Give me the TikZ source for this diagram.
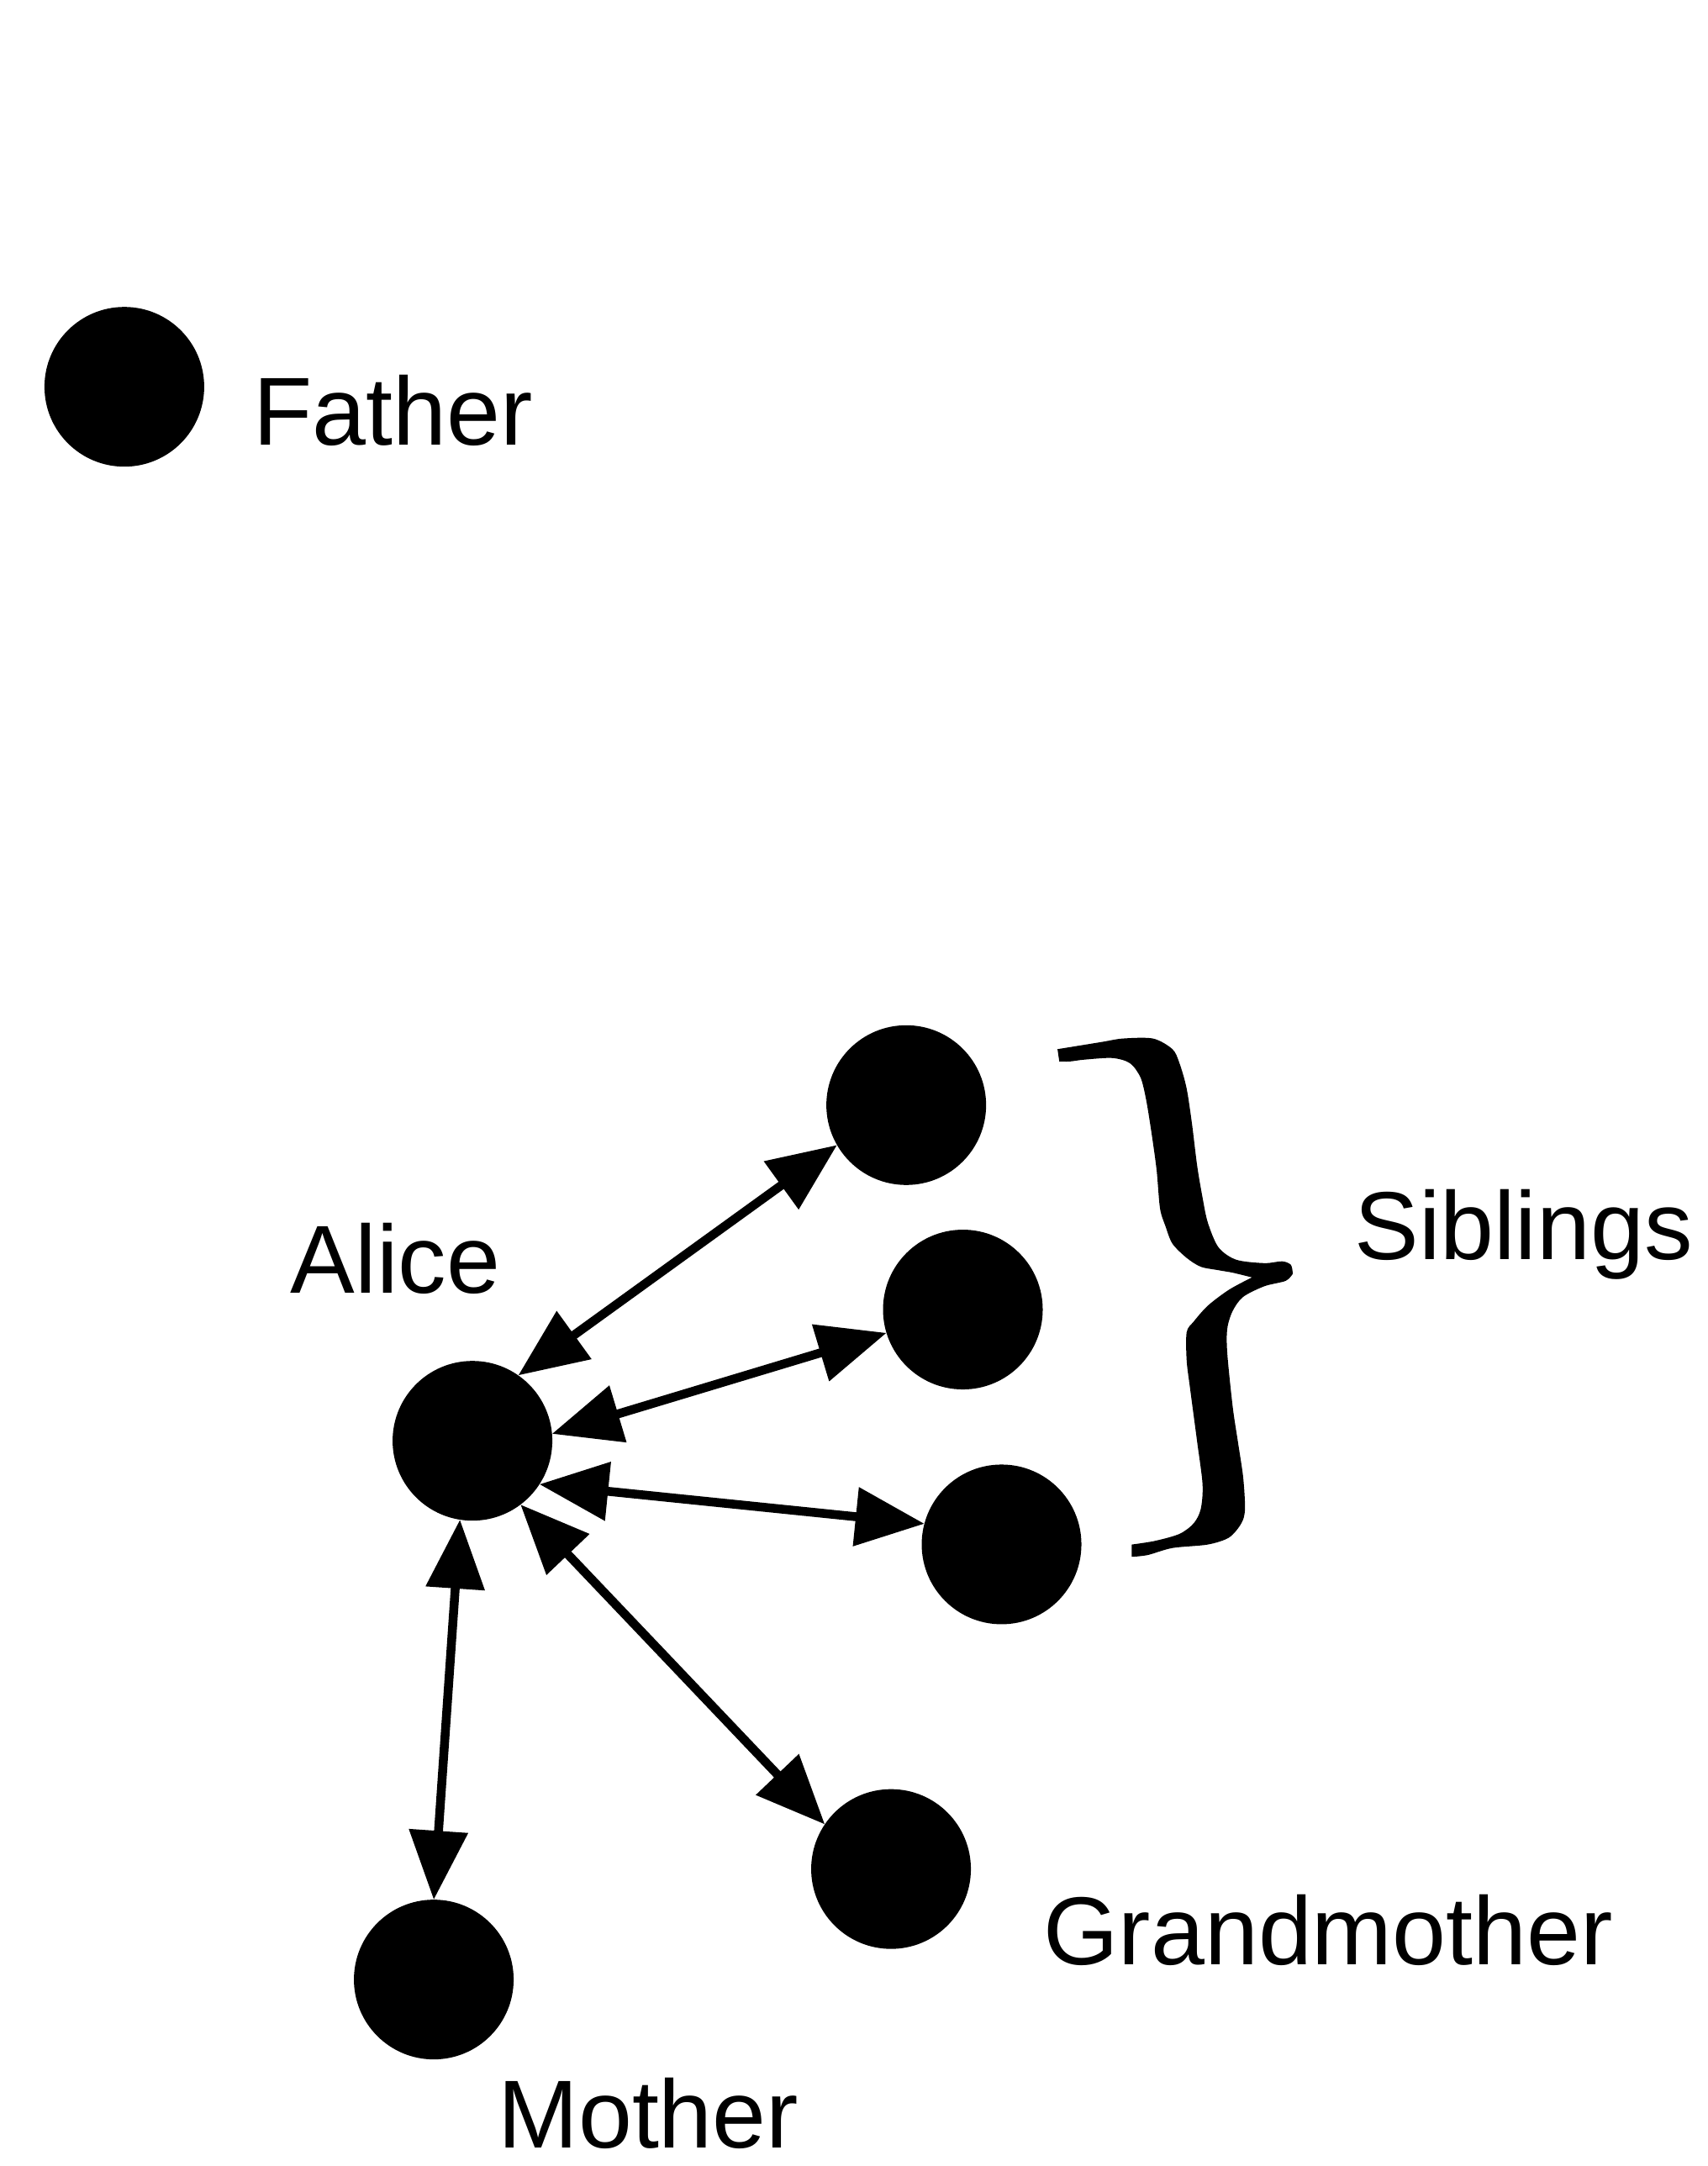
\documentclass[tikz,border=0pt]{standalone}
\usepackage{fontspec}
\setmainfont{Liberation Sans}
\usetikzlibrary{arrows.meta}

\begin{document}
\begin{tikzpicture}
      [x=0.016432cm,y=-0.016432cm,
       person/.style={circle,fill=black,minimum size=1.9cm,inner sep=0pt,outer sep=0pt},
       tag/.style={anchor=base west,inner sep=0pt,font=\fontsize{32.7}{39}\selectfont},
       tie/.style={<->,line width=3pt},
       >={Triangle[length=0.82cm,width=0.68cm]}]
      \useasboundingbox (0,0) rectangle (1236,1568) ;
      \node[person] (father) at (90,280) {} ;
      \node[person] (alice) at (342,1043) {} ;
      \node[person] (sib1) at (656,800) {} ;
      \node[person] (sib2) at (697,948) {} ;
      \node[person] (sib3) at (725,1118) {} ;
      \node[person] (grandma) at (645,1353) {} ;
      \node[person] (mother) at (314,1433) {} ;
      \node[tag] (fathertag) at (183,322) {Father} ;
      \node[tag] (alicetag) at (210,936) {Alice} ;
      \node[tag] (sibtag) at (980,912) {Siblings} ;
      \node[tag] (grandmatag) at (755,1422) {Grandmother} ;
      \node[tag] (mothertag) at (360,1555) {Mother} ;
      \draw[tie] (alice.55) to (sib1.210) ;
      \draw[tie] (alice.5) to (sib2.197) ;
      \draw[tie] (alice.-33) to (sib3.165) ;
      \draw[tie] (alice.-53) to (grandma.146) ;
      \draw[tie] (alice.-99) to (mother.90) ;
      % the brace round the siblings
      \fill plot[smooth,tension=.5] coordinates {(765.5,759.5) (797.5,754.3) (812.8,751.8) (834.6,751.8)
            (848.7,759.5) (853.8,769.7) (858.9,787.6) (862.8,813.2) (866.6,844) (870.5,867)
            (874.3,885) (882,902.9) (894.8,911.9) (915.3,914.4) (928.1,913.1) (934.5,915.7) (935.8,922.1)}
        -- plot[smooth,tension=.5] coordinates {(935.8,922.1) (930.7,927.2) (915.3,931.1) (899.9,938.8)
            (892.3,949) (888.4,961.8) (888.4,979.7) (892.3,1018.2) (896.1,1043.8) (899.9,1069.4)
            (901.2,1092.4) (898.6,1102.7) (889.7,1113) (874.3,1118.1) (848.7,1120.6) (830.8,1125.7) (819.2,1127)}
        -- plot[smooth,tension=.5] coordinates {(819.2,1118.1) (835.9,1115.5) (853.8,1110.4) (864.1,1102.7)
            (869.2,1092.4) (870.5,1074.5) (866.6,1043.8) (861.5,1005.3) (859,984.9) (859,964.4)
            (864.1,956.7) (874.3,945.2) (889.7,933.6) (906.3,924.7)}
        -- plot[smooth,tension=.5] coordinates {(906.3,924.7) (892.3,921.3) (882,919.5) (869.2,917)
            (859,910.6) (848.7,900.3) (843.6,887.5) (839.7,874.7) (837.2,846.6) (833.3,818.4)
            (829.5,795.3) (825.6,780) (818,769.7) (805.2,765.9) (784.7,767.1) (774.4,768.4) (766.8,768.4)}
        -- cycle ;
    \end{tikzpicture}
\end{document}
